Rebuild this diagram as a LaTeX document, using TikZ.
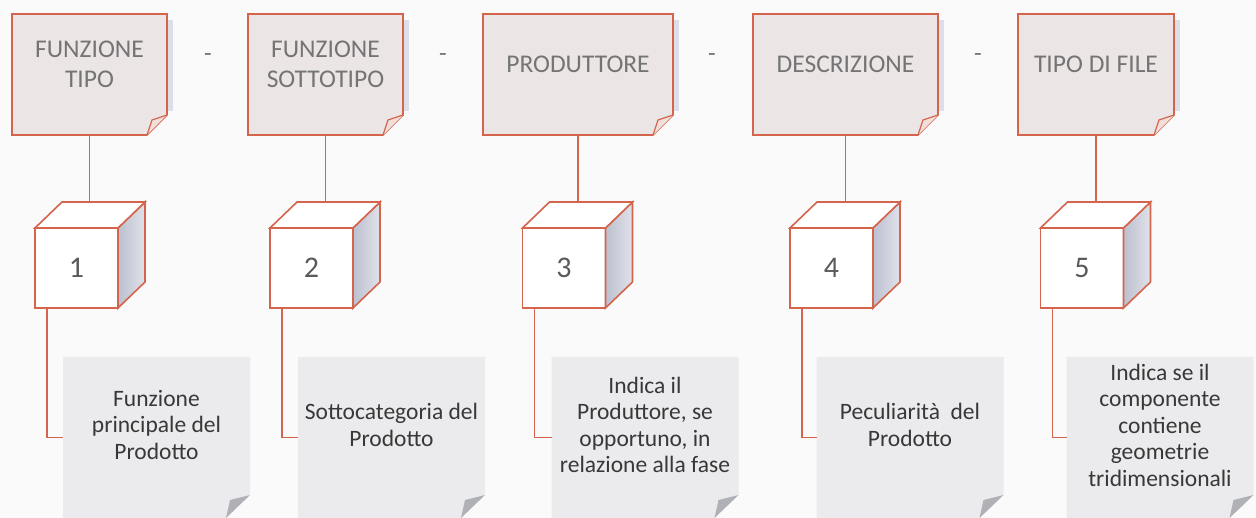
\documentclass[tikz,border=0pt]{standalone}
\usepackage{fontspec}
\setmainfont{Carlito}
\usetikzlibrary{backgrounds}
\definecolor{edge}{HTML}{D4644C}
\definecolor{topfill}{HTML}{ECE5E6}
\definecolor{notefill}{HTML}{EBEBED}
\definecolor{foldgray}{HTML}{B0B1B6}
\definecolor{shadowc}{HTML}{DCDFE8}
\definecolor{sidea}{HTML}{BCC0CF}
\definecolor{sideb}{HTML}{E0E2EA}
\definecolor{toptxt}{HTML}{747474}
\definecolor{notetxt}{HTML}{383838}
\definecolor{numtxt}{HTML}{5A5A5A}
\definecolor{foldpink}{HTML}{F3DFDA}
\definecolor{bgc}{HTML}{FAFAFA}
\tikzset{
  topbox/.style={minimum height=121pt, inner sep=0pt, outer sep=0pt},
  toptext/.style={font=\fontsize{25.5}{29.5}\selectfont, text=toptxt, align=center, inner sep=0pt},
  cubefront/.style={draw=edge, line width=1.6pt, fill=white, minimum width=83pt, minimum height=80pt, inner sep=0pt, outer sep=0pt, font=\fontsize{30}{34}\selectfont, text=numtxt},
  conn/.style={draw=edge, line width=1.6pt},
  notebox/.style={minimum width=187pt, minimum height=161pt, inner sep=0pt, outer sep=0pt},
  notetext/.style={font=\fontsize{23.5}{26.5}\selectfont, text=notetxt, align=center, inner sep=0pt},
  septext/.style={font=\fontsize{25}{30}\selectfont, text=toptxt, inner sep=0pt, anchor=base},
}
\newcommand{\tbshape}[1]{%
  \fill[shadowc] ([shift={(0,6)}]#1.north east) rectangle ([shift={(6,-24)}]#1.south east);
  \draw[edge, line width=1.6pt, fill=topfill] (#1.north west) -- (#1.north east) -- ([shift={(0,-20)}]#1.south east) -- ([shift={(-20,0)}]#1.south east) -- (#1.south west) -- cycle;
  \draw[edge, line width=1.2pt, fill=foldpink] ([shift={(0,-20)}]#1.south east) -- ([shift={(-15,-15)}]#1.south east) -- ([shift={(-20,0)}]#1.south east);
}
\newcommand{\ntshape}[1]{%
  \fill[notefill] (#1.north west) -- (#1.north east) -- ([shift={(0,-23)}]#1.south east) -- ([shift={(-24,0)}]#1.south east) -- (#1.south west) -- cycle;
  \fill[foldgray] ([shift={(0,-23)}]#1.south east) -- ([shift={(-20,-18)}]#1.south east) -- ([shift={(-24,0)}]#1.south east) -- cycle;
}
\newcommand{\cubefaces}[1]{%
  \draw[conn, left color=sidea, right color=sideb] (#1.north east) -- ++(27,-26) -- ++(0,80) -- (#1.south east) -- cycle;
  \draw[conn, fill=white] (#1.north west) -- ++(27,-26) -- ++(83,0) -- (#1.north east) -- cycle;
}
\begin{document}
\begin{tikzpicture}[x=1pt,y=-1pt]
\useasboundingbox (0,0) rectangle (1256,518);
\begin{scope}[on background layer]
  \fill[bgc] (0,0) rectangle (1256,518);
\end{scope}
% top boxes
\node[topbox, minimum width=155pt] (b1) at (89.5,74.5) {};
\node[topbox, minimum width=155pt] (b2) at (325.5,74.5) {};
\node[topbox, minimum width=190pt] (b3) at (578,74.5) {};
\node[topbox, minimum width=185pt] (b4) at (845.5,74.5) {};
\node[topbox, minimum width=156pt] (b5) at (1096,74.5) {};
% bottom notes
\node[notebox] (n1) at (156.5,437.5) {};
\node[notebox] (n2) at (391.5,437.5) {};
\node[notebox] (n3) at (645,437.5) {};
\node[notebox] (n4) at (910,437.5) {};
\node[notebox] (n5) at (1160,437.5) {};
\begin{scope}[on background layer]
  \foreach \b in {b1,b2,b3,b4,b5} {\tbshape{\b}}
  \foreach \n in {n1,n2,n3,n4,n5} {\ntshape{\n}}
\end{scope}
% top texts
\node[toptext] (l1) at (89.5,64.5) {FUNZIONE\\TIPO};
\node[toptext] (l2) at (325.5,64.5) {FUNZIONE\\SOTTOTIPO};
\node[toptext] (l3) at (578,64.5) {PRODUTTORE};
\node[toptext] (l4) at (845.5,64.5) {DESCRIZIONE};
\node[toptext] (l5) at (1096,64.5) {TIPO DI FILE};
% separators
\node[septext] (s1) at (208,62) {-};
\node[septext] (s2) at (443,62) {-};
\node[septext] (s3) at (712,62) {-};
\node[septext] (s4) at (978,62) {-};
% cubes
\node[cubefront] (c1) at (76.5,268) {1};
\node[cubefront] (c2) at (311.5,268) {2};
\node[cubefront] (c3) at (564,268) {3};
\node[cubefront] (c4) at (831.5,268) {4};
\node[cubefront] (c5) at (1082,268) {5};
\foreach \c in {c1,c2,c3,c4,c5} {
  \cubefaces{\c}
  \coordinate (k\c) at ([shift={(27,-26)}]\c.north west);
}
% note texts
\node[notetext] (d1) at (156.5,425) {Funzione\\principale del\\Prodotto};
\node[notetext] (d2) at (391.5,425) {Sottocategoria del\\Prodotto};
\node[notetext] (d3) at (645,425) {Indica il\\Produttore, se\\opportuno, in\\relazione alla fase};
\node[notetext] (d4) at (910,425) {Peculiarità\ \ del\\Prodotto};
\node[notetext] (d5) at (1160,425) {Indica se il\\componente\\contiene\\geometrie\\tridimensionali};
% connectors
\draw[conn] (b1.south) -- (b1.south |- kc1);
\draw[conn] (b2.south) -- (b2.south |- kc2);
\draw[conn] (b3.south) -- (b3.south |- kc3);
\draw[conn] (b4.south) -- (b4.south |- kc4);
\draw[conn] (b5.south) -- (b5.south |- kc5);
\draw[conn] ([xshift=12pt]c1.south west) |- (n1.west);
\draw[conn] ([xshift=12pt]c2.south west) |- (n2.west);
\draw[conn] ([xshift=12pt]c3.south west) |- (n3.west);
\draw[conn] ([xshift=12pt]c4.south west) |- (n4.west);
\draw[conn] ([xshift=12pt]c5.south west) |- (n5.west);
\end{tikzpicture}
\end{document}
